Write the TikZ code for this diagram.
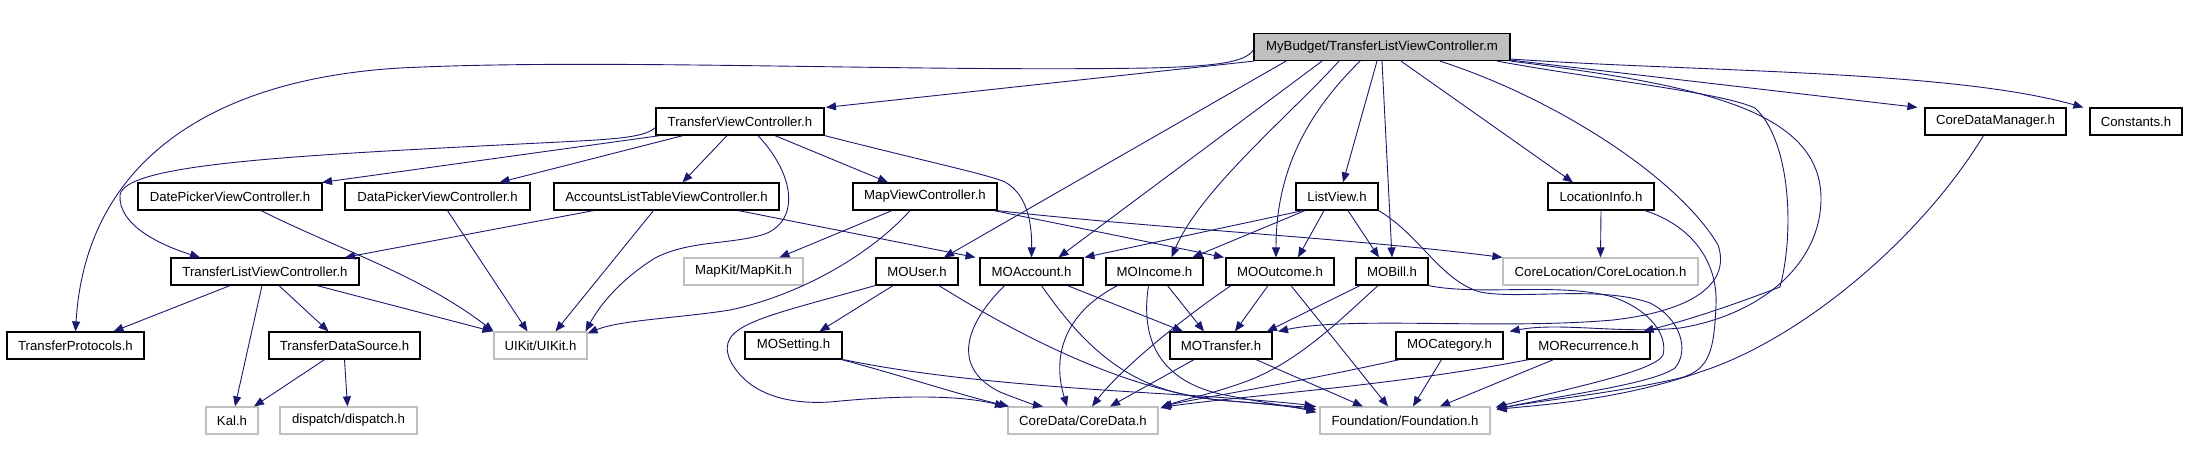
\documentclass[tikz,border=0pt]{standalone}
\usepackage{fontspec}
\setmainfont{Liberation Sans}
\usetikzlibrary{arrows.meta}
\definecolor{edgeblue}{HTML}{191970}
\definecolor{lightgr}{HTML}{BFBFBF}
\begin{document}
\begin{tikzpicture}[x=1pt,y=-1pt,
  box/.style={draw=black, line width=1.2pt, minimum height=27pt, inner sep=0pt, font=\fontsize{13.2}{15}\selectfont},
  gbox/.style={box, draw=lightgr},
  rootbox/.style={box, fill=lightgr},
  e/.style={draw=edgeblue, line width=0.9pt, -{Triangle[length=10pt,width=8pt]}}]
\useasboundingbox (0,0) rectangle (2188,456);
% nodes
\node[rootbox, minimum width=256pt] (root) at (1382,47) {MyBudget/TransferListViewController.m};
\node[box, minimum width=168pt] (tvc) at (740,121.5) {TransferViewController.h};
\node[box, minimum width=141pt] (cdm) at (1995.5,121.5) {CoreDataManager.h};
\node[box, minimum width=92pt] (const) at (2136,121.5) {Constants.h};
\node[box, minimum width=184pt] (datep) at (230,196.5) {DatePickerViewController.h};
\node[box, minimum width=185pt] (datap) at (437.5,196.5) {DataPickerViewController.h};
\node[box, minimum width=225pt] (acc) at (666.5,196.5) {AccountsListTableViewController.h};
\node[box, minimum width=144pt] (mapvc) at (925,196.5) {MapViewController.h};
\node[box, minimum width=82pt] (listv) at (1337,196.5) {ListView.h};
\node[box, minimum width=106pt] (loc) at (1601,196.5) {LocationInfo.h};
\node[box, minimum width=188pt] (tlvc) at (265,271.5) {TransferListViewController.h};
\node[gbox, minimum width=119pt] (mapkit) at (743.5,271.5) {MapKit/MapKit.h};
\node[box, minimum width=82pt] (mouser) at (917,271.5) {MOUser.h};
\node[box, minimum width=103pt] (moacc) at (1031.5,271.5) {MOAccount.h};
\node[box, minimum width=97pt] (moinc) at (1154.5,271.5) {MOIncome.h};
\node[box, minimum width=108pt] (moout) at (1280,271.5) {MOOutcome.h};
\node[box, minimum width=72pt] (mobill) at (1392,271.5) {MOBill.h};
\node[gbox, minimum width=195pt] (coreloc) at (1600.5,271.5) {CoreLocation/CoreLocation.h};
\node[box, minimum width=137pt] (tp) at (75.5,345.5) {TransferProtocols.h};
\node[box, minimum width=151pt] (tds) at (344.5,345.5) {TransferDataSource.h};
\node[gbox, minimum width=93pt] (uikit) at (540.5,345.5) {UIKit/UIKit.h};
\node[box, minimum width=97pt] (moset) at (793.5,345.5) {MOSetting.h};
\node[box, minimum width=102pt] (motr) at (1221,345.5) {MOTransfer.h};
\node[box, minimum width=107pt] (mocat) at (1449.5,345.5) {MOCategory.h};
\node[box, minimum width=123pt] (morec) at (1588.5,345.5) {MORecurrence.h};
\node[gbox, minimum width=52pt] (kal) at (232,420.5) {Kal.h};
\node[gbox, minimum width=137pt] (disp) at (348.5,420.5) {dispatch/dispatch.h};
\node[gbox, minimum width=150pt] (cd) at (1083,420.5) {CoreData/CoreData.h};
\node[gbox, minimum width=170pt] (fd) at (1405,420.5) {Foundation/Foundation.h};
% root edges
\draw[e] ([xshift=-128]root.south) -- ([xshift=86]tvc.north);
\draw[e] ([yshift=-3]root.west) .. controls (1245,62) and (1220,66) .. (1150,68) .. controls (900,72) and (600,58) .. (400,68) .. controls (200,80) and (85,170) .. (tp.north);
\draw[e] ([xshift=-96]root.south) -- ([xshift=27]mouser.north);
\draw[e] ([xshift=-60]root.south) -- ([xshift=27]moacc.north);
\draw[e] ([xshift=-43]root.south) .. controls (1290,115) and (1200,190) .. ([xshift=17]moinc.north);
\draw[e] ([xshift=-22]root.south) .. controls (1300,120) and (1276,180) .. ([xshift=-4]moout.north);
\draw[e] ([xshift=-5]root.south) -- ([xshift=6]listv.north);
\draw[e] (root.south) -- (mobill.north);
\draw[e] ([xshift=19]root.south) -- ([xshift=-28]loc.north);
\draw[e] ([xshift=58]root.south) .. controls (1560,100) and (1680,180) .. (1718,245) .. controls (1730,280) and (1700,310) .. (1613,320) .. controls (1500,330) and (1350,316) .. ([xshift=57]motr.north);
\draw[e] (root.south east) .. controls (1700,85) and (1822,110) .. (1821,200) .. controls (1820,265) and (1760,315) .. (1680,328) .. controls (1620,334) and (1560,322) .. ([xshift=6]mocat.north east);
\draw[e] ([xshift=115]root.south) .. controls (1600,80) and (1720,92) .. (1755,108) .. controls (1790,140) and (1795,230) .. (1780,287) .. controls (1720,310) and (1680,322) .. ([xshift=55]morec.north);
\draw[e] ([yshift=1]root.south east) -- ([xshift=-7]cdm.north west);
\draw[e] ([yshift=-12]root.east) .. controls (1700,72) and (1950,70) .. ([xshift=-6]const.north west);
% TransferViewController edges
\draw[e] ([yshift=-6]tvc.west) .. controls (645,137) and (620,139) .. (560,142) .. controls (300,155) and (125,163) .. (120,195) .. controls (118,225) and (160,245) .. ([xshift=-65]tlvc.north);
\draw[e] ([xshift=-80]tvc.south) -- ([xshift=92]datep.north);
\draw[e] ([xshift=-57]tvc.south) -- ([xshift=62]datap.north);
\draw[e] ([xshift=-13]tvc.south) -- ([xshift=16]acc.north);
\draw[e] ([xshift=35]tvc.south) -- ([xshift=-37]mapvc.north);
\draw[e] (tvc.south east) .. controls (920,160) and (990,175) .. (1005,182) .. controls (1028,195) and (1032,225) .. (moacc.north);
\draw[e] ([xshift=18]tvc.south) .. controls (795,175) and (800,220) .. (765,234) .. controls (730,245) and (690,240) .. (655,258) .. controls (620,280) and (600,305) .. ([xshift=45]uikit.north);
% second row
\draw[e] ([xshift=31]datep.south) .. controls (340,250) and (420,275) .. ([xshift=-47]uikit.north);
\draw[e] ([xshift=10]datap.south) -- ([xshift=-13]uikit.north);
\draw[e] ([xshift=-13]acc.south) -- ([xshift=15]uikit.north);
\draw[e] ([xshift=-73]acc.south) -- ([xshift=80]tlvc.north);
\draw[e] ([xshift=72]acc.south) -- ([xshift=-56]moacc.north);
\draw[e] ([xshift=-33]mapvc.south) -- ([xshift=36]mapkit.north);
\draw[e] ([xshift=-15]mapvc.south) .. controls (870,255) and (800,295) .. (730,310) .. controls (680,318) and (620,320) .. ([yshift=-2]uikit.north east);
\draw[e] (mapvc.south east) .. controls (1150,228) and (1350,238) .. (coreloc.north west);
\draw[e] ([xshift=69]mapvc.south) -- ([xshift=-56]moout.north);
\draw[e] ([xshift=-34]listv.south) -- ([xshift=53]moacc.north);
\draw[e] ([xshift=-32]listv.south) -- ([xshift=38]moinc.north);
\draw[e] ([xshift=-13]listv.south) -- ([xshift=18]moout.north);
\draw[e] ([xshift=11]listv.south) -- ([xshift=-13]mobill.north);
\draw[e] (listv.south east) .. controls (1420,235) and (1440,280) .. (1480,292) .. controls (1520,300) and (1600,285) .. (1650,303) .. controls (1680,318) and (1690,350) .. (1675,368) .. controls (1650,385) and (1560,395) .. ([xshift=6,yshift=-3]fd.north east);
\draw[e] (loc.south) -- (coreloc.north);
\draw[e] ([xshift=44]loc.south) .. controls (1690,225) and (1718,260) .. (1716,305) .. controls (1714,350) and (1710,370) .. (1680,378) .. controls (1620,392) and (1560,398) .. ([xshift=6,yshift=-2]fd.north east);
\draw[e] ([xshift=-12]cdm.south) .. controls (1920,240) and (1800,340) .. (1700,372) .. controls (1620,400) and (1540,405) .. ([xshift=6,yshift=-3]fd.north east);
% TransferListViewController edges
\draw[e] ([xshift=-35]tlvc.south) -- ([xshift=38]tp.north);
\draw[e] ([xshift=-3]tlvc.south) -- ([xshift=3]kal.north);
\draw[e] ([xshift=14]tlvc.south) -- ([xshift=-16]tds.north);
\draw[e] ([xshift=52]tlvc.south) -- ([xshift=-48]uikit.north);
\draw[e] ([xshift=-20]tds.south) -- ([xshift=22]kal.north);
\draw[e] (tds.south) -- ([xshift=-1]disp.north);
% model edges
\draw[e] ([xshift=-24]mouser.south) -- ([xshift=26]moset.north);
\draw[e] ([xshift=-42]mouser.south) .. controls (760,318) and (715,325) .. (730,360) .. controls (745,390) and (780,405) .. (830,402) .. controls (900,395) and (960,395) .. ([xshift=-78]cd.north);
\draw[e] ([xshift=22]mouser.south) .. controls (1050,355) and (1150,395) .. (1230,401) .. controls (1280,405) and (1300,407) .. ([xshift=-3]fd.north west);
\draw[e] ([xshift=48]moset.south) .. controls (900,375) and (960,395) .. ([xshift=-74]cd.north);
\draw[e] ([xshift=50]moset.south) .. controls (950,382) and (1100,390) .. (1200,396) .. controls (1260,400) and (1300,404) .. ([xshift=-5]fd.north west);
\draw[e] ([xshift=36]moacc.south) -- ([xshift=-38]motr.north);
\draw[e] ([xshift=-27]moacc.south) .. controls (960,330) and (955,370) .. (1000,392) .. controls (1020,400) and (1035,405) .. ([xshift=-40]cd.north);
\draw[e] ([xshift=10]moacc.south) .. controls (1100,370) and (1150,395) .. (1230,401) .. controls (1280,405) and (1300,408) .. ([xshift=-3,yshift=-3]fd.north west);
\draw[e] ([xshift=13]moinc.south) -- ([xshift=-17]motr.north);
\draw[e] ([xshift=-37]moinc.south) .. controls (1070,310) and (1050,350) .. ([xshift=-16]cd.north);
\draw[e] ([xshift=-6]moinc.south) .. controls (1140,340) and (1160,380) .. (1220,394) .. controls (1270,404) and (1300,408) .. ([xshift=-3,yshift=-6]fd.north west);
\draw[e] ([xshift=-12]moout.south) -- ([xshift=14]motr.north);
\draw[e] ([xshift=-49]moout.south) .. controls (1180,320) and (1120,370) .. ([xshift=9]cd.north);
\draw[e] ([xshift=11]moout.south) -- ([xshift=-17]fd.north);
\draw[e] ([xshift=-32]mobill.south) -- ([xshift=46]motr.north);
\draw[e] ([xshift=-14]mobill.south) .. controls (1340,320) and (1300,360) .. (1250,380) .. controls (1210,395) and (1180,400) .. ([xshift=2,yshift=-2]cd.north east);
\draw[e] (mobill.south east) .. controls (1480,296) and (1560,282) .. (1613,297) .. controls (1650,310) and (1668,335) .. (1663,355) .. controls (1655,372) and (1560,390) .. ([xshift=5,yshift=-1]fd.north east);
\draw[e] ([xshift=-27]motr.south) -- ([xshift=27]cd.north);
\draw[e] ([xshift=35]motr.south) -- ([xshift=-42]fd.north);
\draw[e] ([xshift=-50]mocat.south) .. controls (1300,382) and (1200,398) .. ([xshift=3]cd.north east);
\draw[e] ([xshift=-8]mocat.south) -- ([xshift=8]fd.north);
\draw[e] ([xshift=-60]morec.south) .. controls (1400,385) and (1250,395) .. ([xshift=2,yshift=-1]cd.north east);
\draw[e] ([xshift=-35]morec.south) -- ([xshift=35]fd.north);
\end{tikzpicture}
\end{document}
